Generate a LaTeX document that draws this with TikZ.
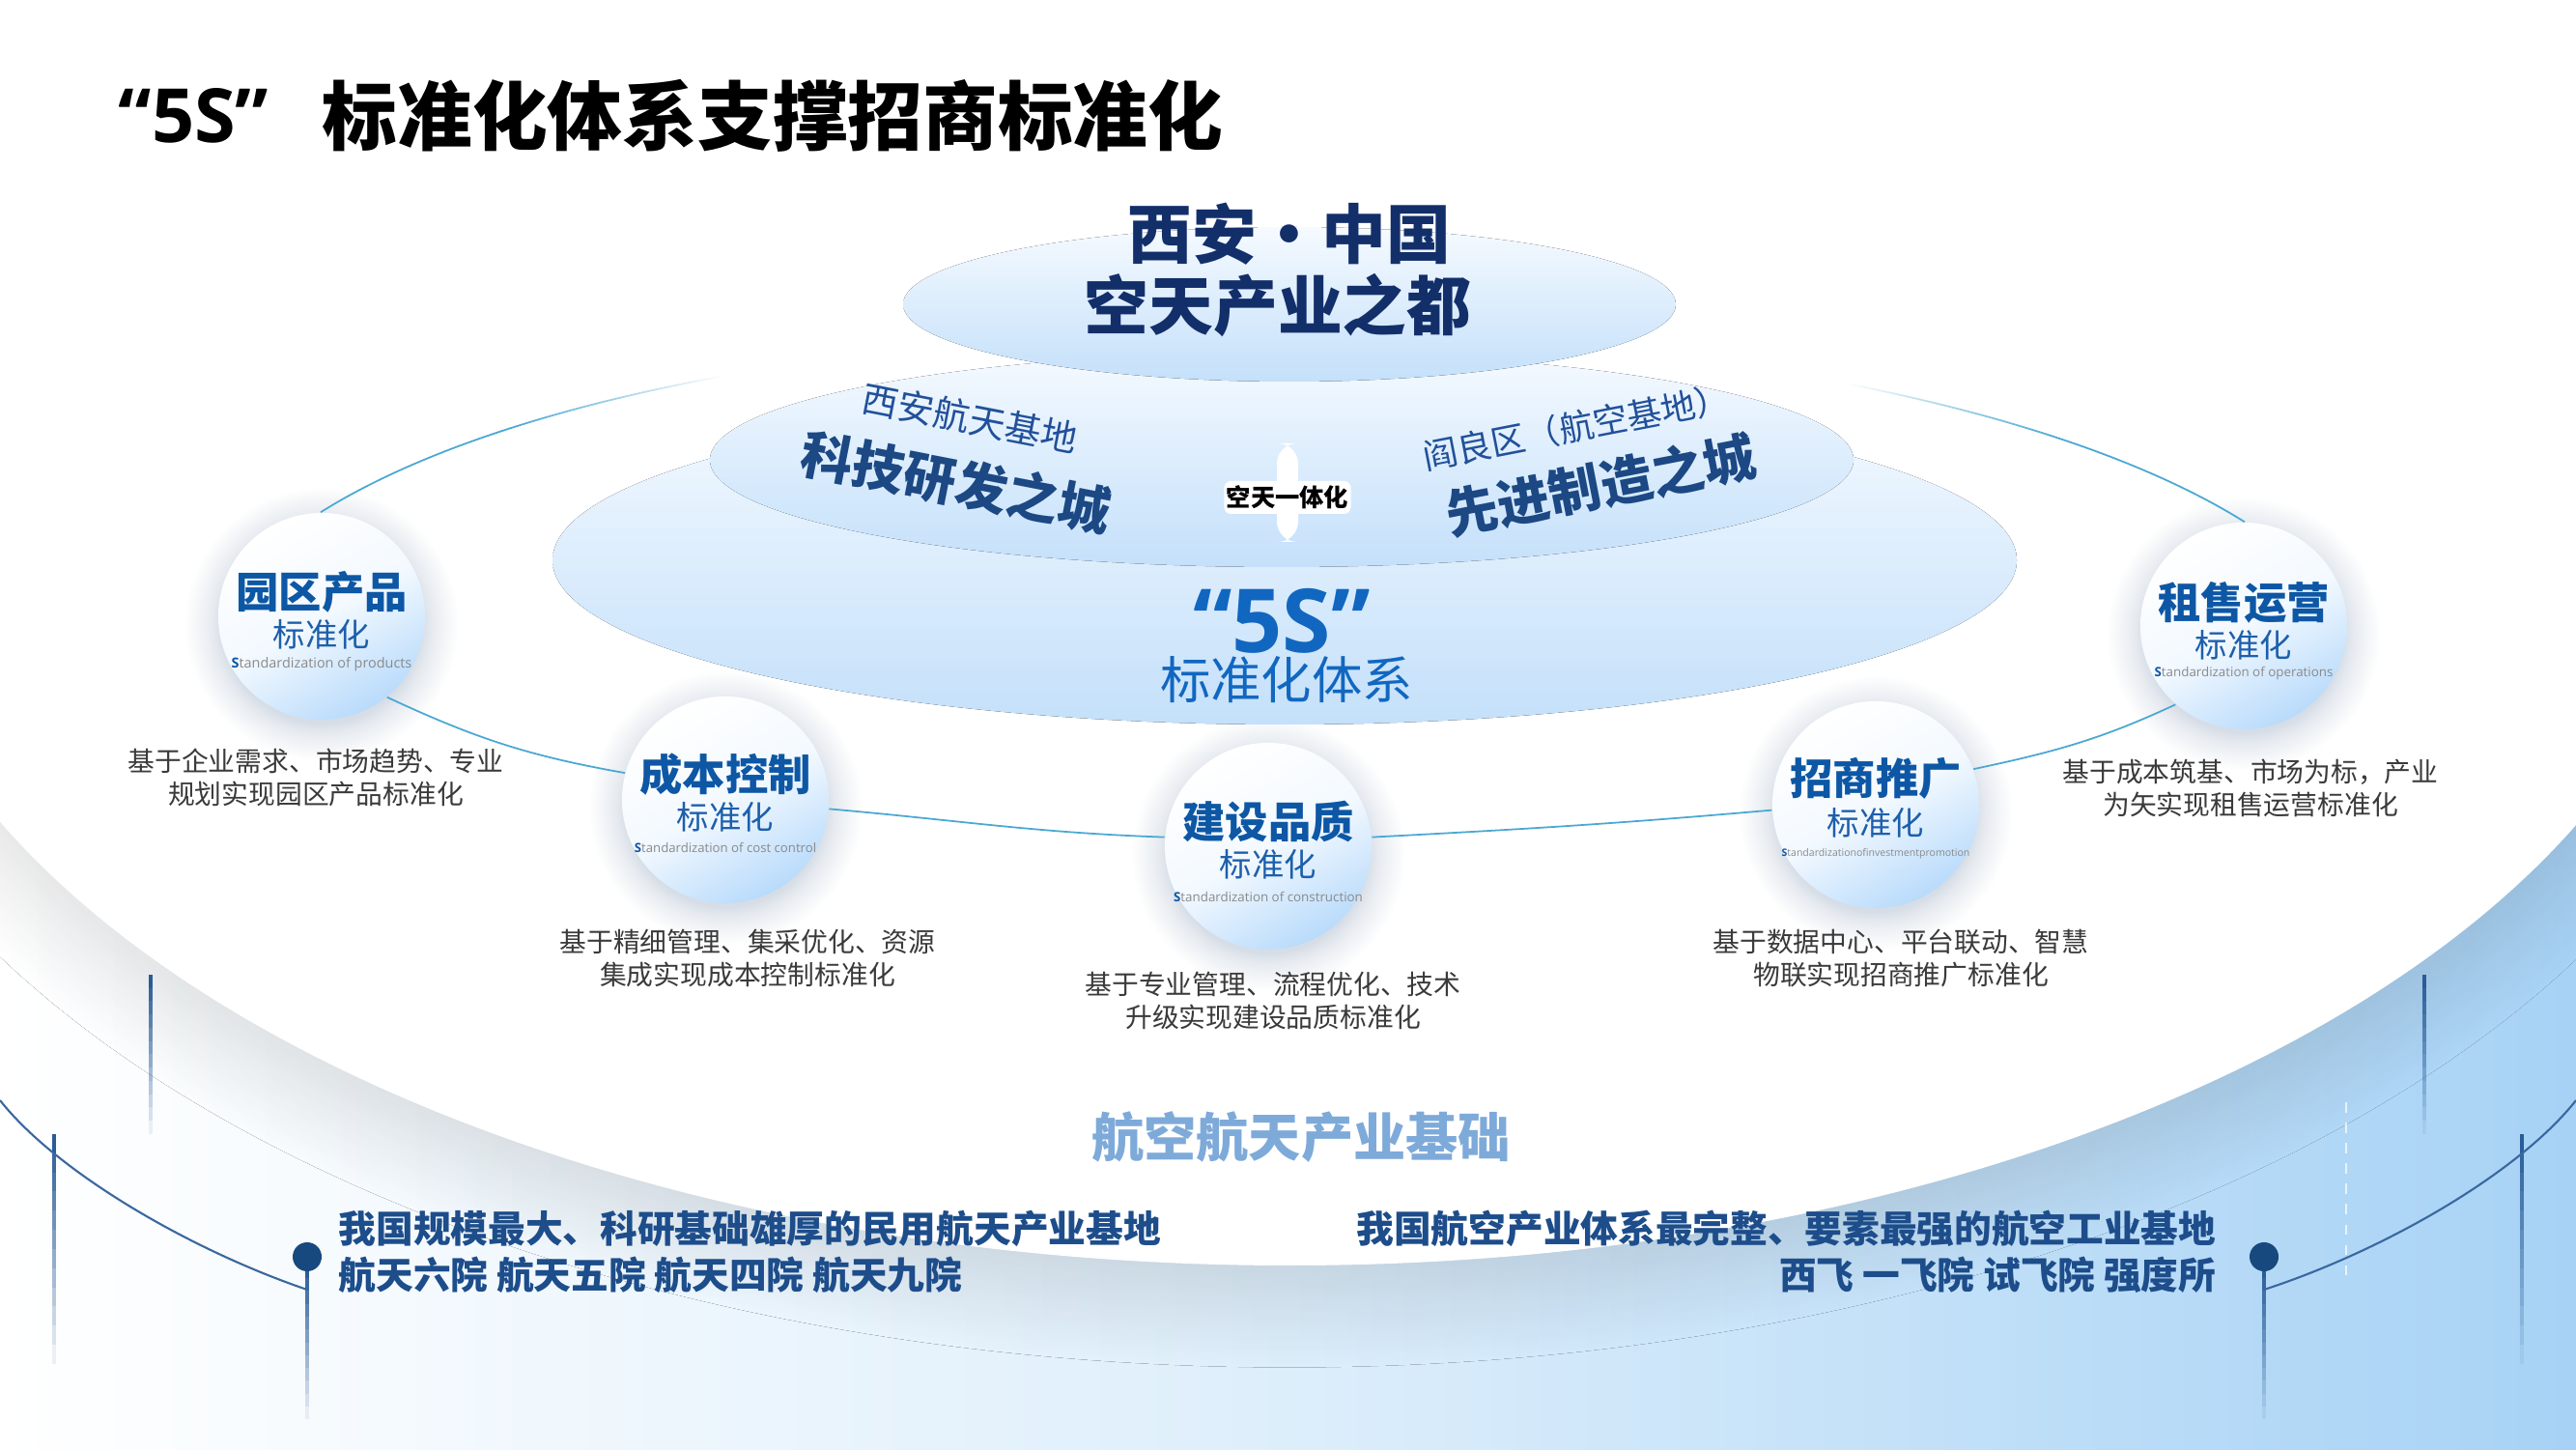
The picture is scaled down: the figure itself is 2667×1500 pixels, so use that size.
\documentclass[tikz,border=0pt]{standalone}
\usepackage{fontspec}
\setmainfont{Noto Sans CJK SC}
\newfontfamily\latf{Open Sans}
\usetikzlibrary{shadows.blur,fadings,calc}
\definecolor{bgblue}{HTML}{A7D2F5}
\definecolor{bgmid}{HTML}{DDEEFB}
\definecolor{tierT}{HTML}{F5FAFF}
\definecolor{tierB}{HTML}{C4E0FA}
\definecolor{circb}{HTML}{B9DBFB}
\definecolor{circm}{HTML}{F3F9FF}
\definecolor{connc}{HTML}{4AA8D3}
\definecolor{navyTop}{HTML}{132F6A}
\definecolor{navyMid}{HTML}{1C4884}
\definecolor{navyLt}{HTML}{21509A}
\definecolor{blueS}{HTML}{1167C0}
\definecolor{ctitle}{HTML}{0D57A5}
\definecolor{cstdc}{HTML}{1D5FAB}
\definecolor{subgray}{HTML}{8A8A8A}
\definecolor{descc}{HTML}{3A3A3A}
\definecolor{botc}{HTML}{1D4D8A}
\definecolor{basec}{HTML}{7EAAD9}
\definecolor{linec}{HTML}{2A5C98}
\definecolor{curvec}{HTML}{3A67A0}
\definecolor{dotc}{HTML}{17497F}
\definecolor{shadc}{HTML}{D6DDE6}
\pgfdeclarehorizontalshading{midfadeshade}{100bp}{color(0bp)=(white); color(30bp)=(white); color(35.5bp)=(black); color(64.5bp)=(black); color(70bp)=(white); color(100bp)=(white)}
\pgfdeclarefading{midfade}{\pgfuseshading{midfadeshade}}
\pgfdeclareradialshading{cshade}{\pgfpoint{0bp}{0bp}}{color(0bp)=(shadc); color(18bp)=(shadc); color(20bp)=(shadc!60!white); color(25bp)=(white); color(50bp)=(white)}
\newcommand\fadeline[3]{%
  \foreach \k [evaluate=\k as \op using {1-\k/12}] in {0,...,11}{%
    \fill[linec, opacity=\op] ({#1-2},{#2+(#3-#2)*\k/12}) rectangle ({#1+2},{#2+(#3-#2)*(\k+1)/12});}}
\newcommand\circshadow[2]{\shade[shading=cshade] (#1,{#2-8}) circle (142);}
\begin{document}
\begin{tikzpicture}[x=0.01cm,y=0.01cm,
  conn/.style={draw=connc, line width=0.5pt},
  tier/.style={top color=tierT, bottom color=tierB},
  circ/.style={circle, minimum size=2.14cm, inner sep=0pt, top color=white, bottom color=circb, middle color=circm, shading angle=30},
  ctit/.style={inner sep=0pt, text=ctitle, font=\bfseries\fontsize{12.6}{14}\selectfont},
  cstd/.style={inner sep=0pt, text=cstdc, font=\fontsize{9.5}{11}\selectfont},
  csub/.style={inner sep=0pt, text=subgray},
  desc/.style={inner sep=0pt, align=center, text=descc, font=\fontsize{7.9}{9.7}\selectfont},
  btxt/.style={inner sep=0pt, text=botc, font=\bfseries\fontsize{11}{13.7}\selectfont}
]
\useasboundingbox (0,0) rectangle (2667,1500);
% background
\fill[left color=white, right color=bgblue, middle color=bgmid] (0,0) rectangle (2667,1500);
\fill[white, blur shadow={shadow xshift=0pt, shadow yshift=-8pt, shadow blur radius=22pt, shadow opacity=14, shadow blur steps=25}] (1335,990) ellipse [x radius=1475, y radius=800];
\fill[white] (0,990) rectangle (2667,1500);
% bottom decorations
\fadeline{156}{491}{326}
\fadeline{56}{326}{88}
\fadeline{318}{190}{31}
\fadeline{2510}{491}{326}
\fadeline{2611}{326}{88}
\fadeline{2344}{190}{31}
\draw[curvec, line width=0.6pt] (0,361) .. controls (60,285) and (200,205) .. (318,165);
\draw[curvec, line width=0.6pt] (2667,361) .. controls (2607,285) and (2467,205) .. (2344,165);
\draw[white, dashed, line width=0.5pt, opacity=0.7] (2429,359) -- (2429,170);
\fill[dotc] (318,199) circle (15);
\fill[dotc] (2344,199) circle (15);
% circles
\circshadow{333}{862}
\circshadow{751}{672}
\circshadow{1313}{624}
\circshadow{1942}{667}
\circshadow{2323}{852}
\node[circ] (yq) at (333,862) {};
\node[circ] (cb) at (751,672) {};
\node[circ] (js) at (1313,624) {};
\node[circ] (zs) at (1942,667) {};
\node[circ] (zy) at (2323,852) {};
% connectors
\draw[conn, path fading=midfade] (yq.90) to[out=32,in=148,looseness=0.62] (zy.88);
\draw[conn] (yq.-51) to[out=-25,in=170] (cb.165);
\draw[conn] (cb.-5) to[out=-5,in=178] (js.175);
\draw[conn] (js.5) to[out=3,in=185] (zs.183);
\draw[conn] (zs.20) to[out=12,in=-155] (zy.-131);
% tiers
\fill[tier] (1330,920) ellipse [x radius=758, y radius=170];
\fill[tier] (1327,1024) ellipse [x radius=592, y radius=111];
\fill[tier] (1335,1185) ellipse [x radius=400, y radius=80];
\fill[white, rounded corners=6] (1322,939) rectangle (1344,1041);
\node[fill=white, rounded corners=2pt, inner sep=0pt, minimum width=1.31cm, minimum height=0.34cm, font=\bfseries\fontsize{7.2}{8}\selectfont, text=black] (kt) at (1333,985) {空天一体化};
\node[inner sep=0pt, text=navyTop, font=\bfseries\fontsize{19}{22}\selectfont] (xaz) at (1335,1258) {西安\makebox[1em]{·}中国};
\node[inner sep=0pt, text=navyTop, font=\bfseries\fontsize{19}{22}\selectfont] (kt2) at (1323,1184) {空天产业之都};
\node[inner sep=0pt, rotate=-11, text=navyLt, font=\fontsize{10.7}{12}\selectfont] (xa) at (1004,1067) {西安航天基地};
\node[inner sep=0pt, rotate=-11, text=navyMid, font=\bfseries\fontsize{15.4}{18}\selectfont] (kj) at (990,1001) {科技研发之城};
\node[inner sep=0pt, rotate=11, text=navyLt, font=\fontsize{10.2}{12}\selectfont] (yl) at (1632,1058) {阎良区（航空基地）};
\node[inner sep=0pt, rotate=11, text=navyMid, font=\bfseries\fontsize{15.4}{18}\selectfont] (xj) at (1657,998) {先进制造之城};
\node[inner sep=0pt, text=blueS, font=\latf\bfseries\fontsize{26}{30}\selectfont] (fs) at (1327,857) {“5S”};
\node[inner sep=0pt, text=blueS, font=\fontsize{14.9}{17}\selectfont] (bz) at (1332,796) {标准化体系};
% circle texts
\node[ctit] (yq-t) at ($(yq)+(0,25)$) {园区产品};
\node[cstd] (yq-b) at ($(yq)+(0,-19)$) {标准化};
\node[csub, font=\latf\fontsize{4.1}{5}\selectfont] (yq-s) at ($(yq)+(0,-50)$) {{\bfseries\color{ctitle}S}tandardization of products};
\node[ctit] (cb-t) at ($(cb)+(0,26)$) {成本控制};
\node[cstd] (cb-b) at ($(cb)+(0,-18)$) {标准化};
\node[csub, font=\latf\fontsize{3.75}{5}\selectfont] (cb-s) at ($(cb)+(0,-50)$) {{\bfseries\color{ctitle}S}tandardization of cost control};
\node[ctit] (js-t) at ($(js)+(0,26)$) {建设品质};
\node[cstd] (js-b) at ($(js)+(0,-19)$) {标准化};
\node[csub, font=\latf\fontsize{3.8}{5}\selectfont] (js-s) at ($(js)+(0,-52)$) {{\bfseries\color{ctitle}S}tandardization of construction};
\node[ctit] (zs-t) at ($(zs)+(0,27)$) {招商推广};
\node[cstd] (zs-b) at ($(zs)+(0,-19)$) {标准化};
\node[csub, font=\latf\fontsize{3.0}{4}\selectfont] (zs-s) at ($(zs)+(0,-51)$) {{\bfseries\color{ctitle}S}tandardizationofinvestmentpromotion};
\node[ctit] (zy-t) at ($(zy)+(0,24)$) {租售运营};
\node[cstd] (zy-b) at ($(zy)+(0,-20)$) {标准化};
\node[csub, font=\latf\fontsize{3.8}{5}\selectfont] (zy-s) at ($(zy)+(0,-49)$) {{\bfseries\color{ctitle}S}tandardization of operations};
% descriptions
\node[desc] (yq-d) at (327,695) {基于企业需求、市场趋势、专业\\规划实现园区产品标准化};
\node[desc] (cb-d) at (774,508) {基于精细管理、集采优化、资源\\集成实现成本控制标准化};
\node[desc] (js-d) at (1318,464) {基于专业管理、流程优化、技术\\升级实现建设品质标准化};
\node[desc] (zs-d) at (1968,508) {基于数据中心、平台联动、智慧\\物联实现招商推广标准化};
\node[desc] (zy-d) at (2330,684) {基于成本筑基、市场为标，产业\\为矢实现租售运营标准化};
% bottom texts
\node[inner sep=0pt, text=basec, font=\bfseries\fontsize{15.4}{18}\selectfont] (base) at (1347,323) {航空航天产业基础};
\node[btxt, align=left, anchor=west] (lb) at (350,204) {我国规模最大、科研基础雄厚的民用航天产业基地\\航天六院 航天五院 航天四院 航天九院};
\node[btxt, align=right, anchor=east] (rb) at (2295,204) {我国航空产业体系最完整、要素最强的航空工业基地\\西飞 一飞院 试飞院 强度所};
% title
\node[inner sep=0pt, anchor=west, text=black, font=\latf\bfseries\fontsize{22}{26}\selectfont] (t1) at (122,1380) {“5S”};
\node[inner sep=0pt, anchor=west, text=black, font=\bfseries\fontsize{22.1}{26}\selectfont] (t2) at (333,1380) {标准化体系支撑招商标准化};
\end{tikzpicture}
\end{document}
